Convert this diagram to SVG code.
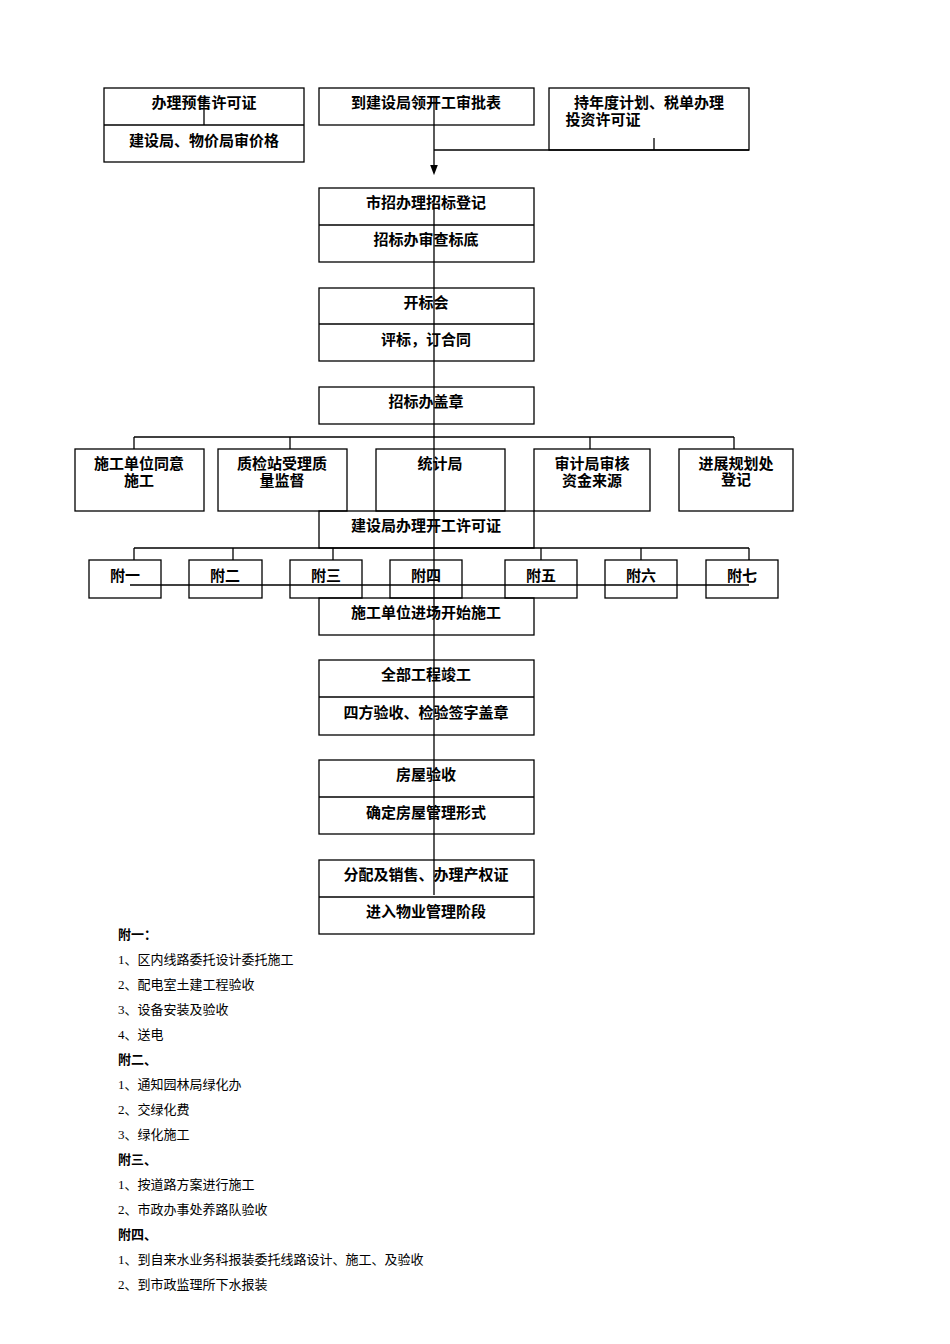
<svg xmlns="http://www.w3.org/2000/svg" width="950" height="1344" viewBox="0 0 950 1344">
<style>
rect{fill:none;stroke:#000;stroke-width:1.3}
line{stroke:#000;stroke-width:1.3}
.t{font-family:"Liberation Sans","Noto Sans CJK SC",sans-serif;font-size:15px;font-weight:bold;text-anchor:middle}
.n{font-family:"Liberation Serif","Noto Sans CJK SC",serif;font-size:13px}
.h{font-weight:bold}
</style>
<defs><marker id="a" markerWidth="8" markerHeight="8" refX="4" refY="4" orient="auto"><path d="M0,1 L8,4 L0,7 z"/></marker></defs>
<g id="connectors">
<line x1="204" y1="100" x2="204" y2="125"/>
<line x1="434" y1="96" x2="434" y2="170" marker-end="url(#a)"/>
<line x1="434" y1="150" x2="749" y2="150"/>
<line x1="654" y1="138" x2="654" y2="150"/>
<line x1="434" y1="195" x2="434" y2="895"/>
<line x1="134" y1="437" x2="734" y2="437"/>
<line x1="134" y1="437" x2="134" y2="449"/><line x1="290" y1="437" x2="290" y2="449"/><line x1="590" y1="437" x2="590" y2="449"/><line x1="734" y1="437" x2="734" y2="449"/>
<line x1="134" y1="548" x2="749" y2="548"/>
<line x1="134" y1="548" x2="134" y2="560"/><line x1="233" y1="548" x2="233" y2="560"/><line x1="333" y1="548" x2="333" y2="560"/><line x1="541" y1="548" x2="541" y2="560"/><line x1="641" y1="548" x2="641" y2="560"/><line x1="749" y1="548" x2="749" y2="560"/>
<line x1="130" y1="585" x2="749" y2="585"/>
</g>
<g id="n1"><rect x="104" y="88" width="200" height="74"/><line x1="104" y1="125" x2="304" y2="125"/><text class="t" x="204" y="108">办理预售许可证</text><text class="t" x="204" y="146">建设局、物价局审价格</text></g>
<g id="n2"><rect x="319" y="88" width="215" height="37"/><text class="t" x="426" y="108">到建设局领开工审批表</text></g>
<g id="n3"><rect x="549" y="88" width="200" height="62"/><text class="t" x="649" y="108">持年度计划、税单办理</text><text class="t" x="603" y="125">投资许可证</text></g>
<g id="n4"><rect x="319" y="188" width="215" height="74"/><line x1="319" y1="225" x2="534" y2="225"/><text class="t" x="426" y="208">市招办理招标登记</text><text class="t" x="426" y="245">招标办审查标底</text></g>
<g id="n5"><rect x="319" y="288" width="215" height="73"/><line x1="319" y1="324" x2="534" y2="324"/><text class="t" x="426" y="308">开标会</text><text class="t" x="426" y="345">评标，订合同</text></g>
<g id="n6"><rect x="319" y="387" width="215" height="37"/><text class="t" x="426" y="407">招标办盖章</text></g>
<g id="n7"><rect x="75" y="449" width="129" height="62"/><text class="t" x="139" y="469">施工单位同意</text><text class="t" x="139" y="486">施工</text></g>
<g id="n8"><rect x="218" y="449" width="129" height="62"/><text class="t" x="282" y="469">质检站受理质</text><text class="t" x="282" y="486">量监督</text></g>
<g id="n9"><rect x="376" y="449" width="129" height="62"/><text class="t" x="440" y="469">统计局</text></g>
<g id="n10"><rect x="534" y="449" width="116" height="62"/><text class="t" x="592" y="469">审计局审核</text><text class="t" x="592" y="486">资金来源</text></g>
<g id="n11"><rect x="679" y="449" width="114" height="62"/><text class="t" x="736" y="469">进展规划处</text><text class="t" x="736" y="485">登记</text></g>
<g id="n12"><rect x="319" y="511" width="215" height="37"/><text class="t" x="426" y="531">建设局办理开工许可证</text></g>
<g id="f1"><rect x="89" y="560" width="72" height="38"/><text class="t" x="125" y="581">附一</text></g>
<g id="f2"><rect x="189" y="560" width="73" height="38"/><text class="t" x="225" y="581">附二</text></g>
<g id="f3"><rect x="290" y="560" width="72" height="38"/><text class="t" x="326" y="581">附三</text></g>
<g id="f4"><rect x="390" y="560" width="72" height="38"/><text class="t" x="426" y="581">附四</text></g>
<g id="f5"><rect x="505" y="560" width="72" height="38"/><text class="t" x="541" y="581">附五</text></g>
<g id="f6"><rect x="605" y="560" width="72" height="38"/><text class="t" x="641" y="581">附六</text></g>
<g id="f7"><rect x="706" y="560" width="72" height="38"/><text class="t" x="742" y="581">附七</text></g>
<g id="n13"><rect x="319" y="598" width="215" height="37"/><text class="t" x="426" y="618">施工单位进场开始施工</text></g>
<g id="n14"><rect x="319" y="660" width="215" height="75"/><line x1="319" y1="697" x2="534" y2="697"/><text class="t" x="426" y="680">全部工程竣工</text><text class="t" x="426" y="718">四方验收、检验签字盖章</text></g>
<g id="n15"><rect x="319" y="760" width="215" height="74"/><line x1="319" y1="797" x2="534" y2="797"/><text class="t" x="426" y="780">房屋验收</text><text class="t" x="426" y="818">确定房屋管理形式</text></g>
<g id="n16"><rect x="319" y="860" width="215" height="74"/><line x1="319" y1="897" x2="534" y2="897"/><text class="t" x="426" y="880">分配及销售、办理产权证</text><text class="t" x="426" y="917">进入物业管理阶段</text></g>
<g id="notes" class="n">
<text class="h" x="118" y="939">附一：</text>
<text x="118" y="964">1、区内线路委托设计委托施工</text>
<text x="118" y="989">2、配电室土建工程验收</text>
<text x="118" y="1014">3、设备安装及验收</text>
<text x="118" y="1039">4、送电</text>
<text class="h" x="118" y="1064">附二、</text>
<text x="118" y="1089">1、通知园林局绿化办</text>
<text x="118" y="1114">2、交绿化费</text>
<text x="118" y="1139">3、绿化施工</text>
<text class="h" x="118" y="1164">附三、</text>
<text x="118" y="1189">1、按道路方案进行施工</text>
<text x="118" y="1214">2、市政办事处养路队验收</text>
<text class="h" x="118" y="1239">附四、</text>
<text x="118" y="1264">1、到自来水业务科报装委托线路设计、施工、及验收</text>
<text x="118" y="1289">2、到市政监理所下水报装</text>
</g>
</svg>
